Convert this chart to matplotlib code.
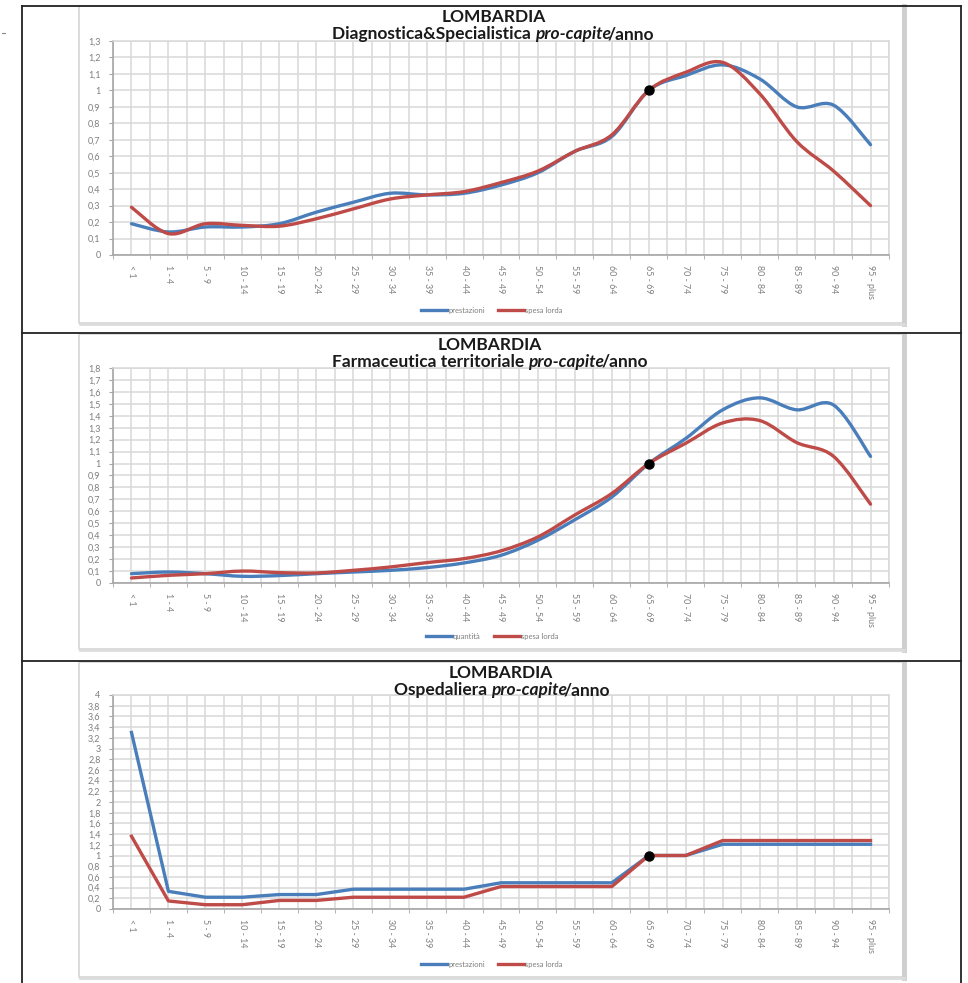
import matplotlib
matplotlib.use("Agg")
import matplotlib.pyplot as plt
from matplotlib.path import Path
from matplotlib.patches import PathPatch, Rectangle
from matplotlib.lines import Line2D
from matplotlib.ticker import FuncFormatter, MultipleLocator

W, H = 968, 983

eta = ["< 1", "1 - 4", "5 - 9", "10 - 14", "15 - 19", "20 - 24", "25 - 29",
       "30 - 34", "35 - 39", "40 - 44", "45 - 49", "50 - 54", "55 - 59",
       "60 - 64", "65 - 69", "70 - 74", "75 - 79", "80 - 84", "85 - 89",
       "90 - 94", "95 - plus"]

diag_prestazioni = [0.19, 0.14, 0.17, 0.17, 0.19, 0.26, 0.32, 0.375, 0.365, 0.375, 0.425,
                    0.50, 0.63, 0.72, 1.00, 1.09, 1.155, 1.07, 0.90, 0.91, 0.67]
diag_spesa = [0.29, 0.13, 0.19, 0.18, 0.175, 0.22, 0.28, 0.34, 0.365, 0.385, 0.44,
              0.51, 0.63, 0.73, 1.00, 1.11, 1.17, 0.98, 0.69, 0.51, 0.30]

farm_quantita = [0.078, 0.092, 0.078, 0.056, 0.062, 0.078, 0.092, 0.106, 0.129, 0.168, 0.232,
                 0.358, 0.53, 0.72, 1.00, 1.21, 1.45, 1.55, 1.45, 1.49, 1.06]
farm_spesa = [0.042, 0.064, 0.078, 0.10, 0.087, 0.084, 0.106, 0.134, 0.171, 0.204, 0.269,
              0.386, 0.57, 0.75, 1.00, 1.17, 1.34, 1.36, 1.176, 1.06, 0.66]

osp_prestazioni = [3.30, 0.33, 0.22, 0.22, 0.27, 0.27, 0.37, 0.37, 0.37, 0.37, 0.49,
                   0.49, 0.49, 0.49, 1.00, 1.00, 1.21, 1.21, 1.21, 1.21, 1.21]
osp_spesa = [1.36, 0.15, 0.08, 0.08, 0.16, 0.16, 0.22, 0.22, 0.22, 0.22, 0.42,
             0.42, 0.42, 0.42, 1.00, 1.00, 1.28, 1.28, 1.28, 1.28, 1.28]

BLUE = "#4a7ebb"
RED = "#be4b48"
GRID = "#d9d9d9"
TXT = "#7f7f7f"
FONT = ["Lato", "DejaVu Sans"]

fig = plt.figure(figsize=(W / 100, H / 100), dpi=100)


def fx(px):
    return px / W


def fy(py):
    return 1 - py / H


def smooth_path(ys):
    # Excel-like smoothed line: cubic bezier through every data point
    pts = list(zip(range(len(ys)), ys))
    verts = [pts[0]]
    codes = [Path.MOVETO]
    n = len(pts)
    for i in range(n - 1):
        p0 = pts[i - 1] if i > 0 else pts[i]
        p1 = pts[i]
        p2 = pts[i + 1]
        p3 = pts[i + 2] if i + 2 < n else pts[i + 1]
        c1 = (p1[0] + (p2[0] - p0[0]) / 6, p1[1] + (p2[1] - p0[1]) / 6)
        c2 = (p2[0] - (p3[0] - p1[0]) / 6, p2[1] - (p3[1] - p1[1]) / 6)
        verts += [c1, c2, p2]
        codes += [Path.CURVE4] * 3
    return Path(verts, codes)


def comma(v, pos):
    s = ("%.1f" % v).replace(".", ",")
    if s.endswith(",0"):
        s = s[:-2]
    return s


def rich_line(cx, cy, pieces, size):
    r = fig.canvas.get_renderer()
    objs = []
    for s, style in pieces:
        t = fig.text(0, fy(cy), s, fontsize=size, fontweight="bold", fontstyle=style,
                     va="center", ha="left", family=FONT, color="#1a1a1a")
        w = t.get_window_extent(r).width
        if style == "italic":
            w -= 3  # italic box has an overhang
        objs.append((t, w))
    total = sum(w for _, w in objs)
    x = cx - total / 2
    for t, w in objs:
        t.set_x(fx(x))
        x += w


def panel(top_px, bottom_px, ymax, ystep, series, labels, name, title_y, legend_y, smooth):
    # light grey box with shadow, as in the scanned page
    box_top, box_bot = title_y[0] - 11, legend_y + 13
    fig.patches.append(Rectangle((fx(79), fy(box_bot)), fx(903) - fx(79), fy(box_top) - fy(box_bot),
                                 transform=fig.transFigure, fill=False, ec="#d6d6d6", lw=1.2))
    fig.lines.append(Line2D([fx(904), fx(904)], [fy(box_bot + 1), fy(box_top)],
                            transform=fig.transFigure, color="#cfcfcf", lw=3.5))
    fig.lines.append(Line2D([fx(80), fx(904)], [fy(box_bot + 1), fy(box_bot + 1)],
                            transform=fig.transFigure, color="#dcdcdc", lw=2))

    ax = fig.add_axes([fx(113), fy(bottom_px), fx(889) - fx(113), fy(top_px) - fy(bottom_px)])
    ax.set_xlim(-0.5, len(eta) - 0.5)
    ax.set_ylim(0, ymax)
    ax.yaxis.set_major_locator(MultipleLocator(ystep))
    ax.yaxis.set_major_formatter(FuncFormatter(comma))
    ax.set_xticks(range(len(eta)))
    ax.set_xticks([i - 0.5 for i in range(len(eta) + 1)], minor=True)
    ax.set_xticklabels(eta, rotation=270, fontsize=6.4, color=TXT, family=FONT)
    ax.tick_params(axis="x", which="major", length=0, pad=7)
    ax.tick_params(axis="x", which="minor", length=3, color="#a6a6a6")
    ax.tick_params(axis="y", length=3, color="#a6a6a6", labelsize=6.5, labelcolor=TXT, pad=6)
    for lab in ax.get_yticklabels():
        lab.set_family(FONT)
    ax.grid(True, which="both", color=GRID, lw=1.1)
    ax.set_axisbelow(True)
    for side in ("top", "right"):
        ax.spines[side].set_color(GRID)
        ax.spines[side].set_linewidth(1.1)
    for side in ("left", "bottom"):
        ax.spines[side].set_color("#a6a6a6")
        ax.spines[side].set_linewidth(1.2)

    handles = []
    for ys, col in zip(series, (BLUE, RED)):
        if smooth:
            ax.add_patch(PathPatch(smooth_path(ys), fill=False, ec=col, lw=2.4,
                                   capstyle="round", joinstyle="round"))
        else:
            ax.plot(range(len(ys)), ys, color=col, lw=2.4)
        handles.append(Line2D([], [], color=col, lw=2.4))
    ax.plot([eta.index("65 - 69")], [series[1][eta.index("65 - 69")]], "o",
            color="black", ms=6.5, zorder=5)

    rich_line(title_y[3], title_y[0], [("LOMBARDIA", "normal")], 12.5)
    rich_line(title_y[2], title_y[1], name, 12.5)

    fig.legend(handles, labels, loc="center", bbox_to_anchor=(fx(492), fy(legend_y)),
               ncol=2, frameon=False, labelcolor=TXT, handlelength=3.4,
               handletextpad=0.1, columnspacing=1.8, prop={"family": FONT, "size": 5.5})
    return ax


panel(41, 255, 1.3, 0.1, [diag_prestazioni, diag_spesa], ["prestazioni", "spesa lorda"],
      [("Diagnostica&Specialistica ", "normal"), ("pro-capite", "italic"), ("/anno", "normal")],
      (17, 34, 493, 494), 310, True)
panel(368, 583, 1.8, 0.1, [farm_quantita, farm_spesa], ["quantità", "spesa lorda"],
      [("Farmaceutica territoriale ", "normal"), ("pro-capite", "italic"), ("/anno", "normal")],
      (345, 362, 490, 490), 636, True)
panel(695, 909, 4, 0.2, [osp_prestazioni, osp_spesa], ["prestazioni", "spesa lorda"],
      [("Ospedaliera ", "normal"), ("pro-capite", "italic"), ("/anno", "normal")],
      (673, 690, 502, 501), 964, False)

# black table rules of the page
for y in (6, 333, 661):
    fig.lines.append(Line2D([fx(22), fx(961)], [fy(y), fy(y)], transform=fig.transFigure,
                            color="#222222", lw=1.3))
for x in (22, 961):
    fig.lines.append(Line2D([fx(x), fx(x)], [fy(6), fy(H)], transform=fig.transFigure,
                            color="#222222", lw=1.3))
fig.lines.append(Line2D([fx(2), fx(5)], [fy(33), fy(33)], transform=fig.transFigure,
                        color="#888888", lw=0.8))

fig.savefig("out.png", dpi=100)
